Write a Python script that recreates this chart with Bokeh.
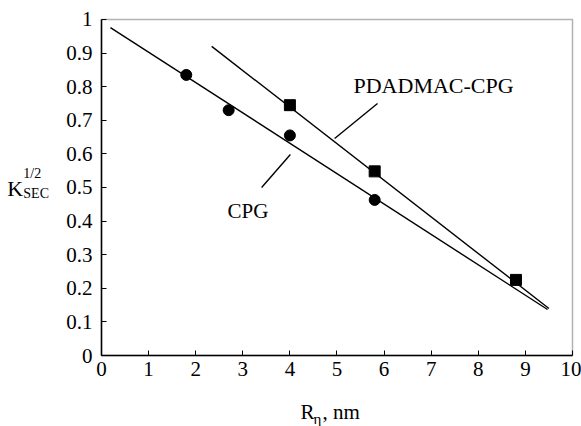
from bokeh.plotting import figure
from bokeh.models import Range1d, Label, FixedTicker, BoxAnnotation
from bokeh.embed import file_html
from bokeh.resources import INLINE

# data
cpg_x = [1.8, 2.7, 4.0, 5.8]
cpg_y = [0.835, 0.73, 0.655, 0.463]
pd_x = [4.0, 5.8, 8.8]
pd_y = [0.745, 0.548, 0.225]
cpg_fit_x = [0.19, 9.47]
cpg_fit_y = [0.976, 0.137]
pd_fit_x = [2.34, 9.5]
pd_fit_y = [0.92, 0.14]
cpg_lead_x = [4.01, 3.40]
cpg_lead_y = [0.598, 0.50]
pd_lead_x = [5.86, 4.95]
pd_lead_y = [0.75, 0.646]
x_ticks = [0, 1, 2, 3, 4, 5, 6, 7, 8, 9, 10]
y_ticks = [0, 0.1, 0.2, 0.3, 0.4, 0.5, 0.6, 0.7, 0.8, 0.9, 1]

FONT = "Liberation Serif"

p = figure(width=581, height=426, output_backend="svg", toolbar_location=None,
           x_range=Range1d(-2.144, 10.191), y_range=Range1d(-0.2113, 1.0565),
           min_border=0)
p.background_fill_color = "white"
p.border_fill_color = "white"
p.grid.visible = False
p.outline_line_color = None

for ax in (p.xaxis[0], p.yaxis[0]):
    ax.fixed_location = 0
    ax.major_tick_in = 5
    ax.major_tick_out = 0
    ax.minor_tick_in = 0
    ax.minor_tick_out = 0
    ax.axis_line_width = 1.5
    ax.major_tick_line_width = 1
    ax.major_label_text_font = FONT
    ax.major_label_text_font_size = "21px"
    ax.major_label_text_color = "black"

p.xaxis[0].bounds = (0, 10)
p.yaxis[0].bounds = (0, 1)
p.xaxis[0].major_label_standoff = 6
p.yaxis[0].major_label_standoff = 9
p.xaxis[0].ticker = FixedTicker(ticks=x_ticks)
p.yaxis[0].ticker = FixedTicker(ticks=y_ticks)
p.xaxis[0].major_label_overrides = {t: str(t) for t in x_ticks}
p.yaxis[0].major_label_overrides = {t: f"{t:g}" for t in y_ticks}

# plot frame box
p.add_layout(BoxAnnotation(left=0, right=10, bottom=0, top=1, fill_color=None,
                           line_color="black", line_width=1.5, level="underlay"))

p.line(cpg_fit_x, cpg_fit_y, line_color="black", line_width=1.4)
p.line(pd_fit_x, pd_fit_y, line_color="black", line_width=1.4)
p.line(cpg_lead_x, cpg_lead_y, line_color="black", line_width=1.4)
p.line(pd_lead_x, pd_lead_y, line_color="black", line_width=1.4)
p.scatter(cpg_x, cpg_y, marker="circle", size=11, fill_color="black", line_color="black")
p.scatter(pd_x, pd_y, marker="square", size=11, fill_color="black", line_color="black")

def lab(x, y, t, size, align="left"):
    p.add_layout(Label(x=x, y=y, text=t, text_font=FONT, text_font_size=size,
                       text_color="black", text_baseline="alphabetic", text_align=align))

lab(5.35, 0.804, "PDADMAC-CPG", "22px")
lab(2.675, 0.4286, "CPG", "21px")

# y-axis label  K_SEC^{1/2}
lab(-2.0, 0.497, "K", "22px")
lab(-1.66, 0.5417, "1/2", "14px")
lab(-1.66, 0.482, "SEC", "14px")

# x-axis label  R_eta, nm
lab(4.225, -0.1696, "R", "21px")
lab(4.50, -0.1875, "η", "15px")
lab(4.69, -0.1696, ", nm", "21px")

open("out.html", "w").write(file_html(p, INLINE))
